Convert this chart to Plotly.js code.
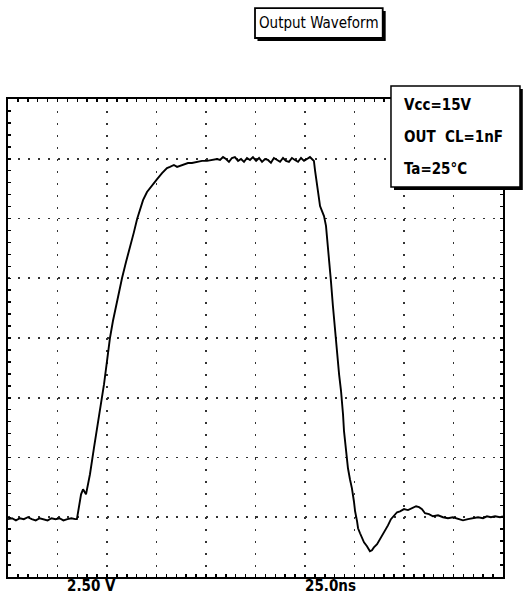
<!DOCTYPE html>
<html>
<head>
<meta charset="utf-8">
<script src="https://cdn.plot.ly/plotly-3.0.1.min.js"></script>
<style>
  html, body { margin: 0; padding: 0; background: #fff; }
  #chart { width: 525px; height: 596px; }
</style>
</head>
<body>
<div id="chart"></div>
<script>
// ---- Data (time in ns, voltage in V) ----
const baseT = [0,2,4,6,8,10,12,14,16,18,20,22,24,26,28,30,32,34];
const baseV = [-0.08,-0.04,-0.13,-0.04,-0.08,0.00,-0.08,-0.13,-0.04,-0.08,-0.13,-0.04,-0.08,-0.04,-0.13,-0.08,-0.04,-0.08];

const riseT = [34.8,36.9,37.9,39.4,41.4,43.4,45.5,47.5,48.5,50.0,51.5,53.0,54.5,56.1,57.6,59.6,61.6,63.6,65.2,66.7,68.2,70.2,72.7,75.3,77.8,80.3,81.8,83.8,85.4,86.9,88.9,90.9,92.9,95.5,98.0,100.5,103.0,105.6];
const riseV = [-0.08,0.96,1.17,0.96,1.80,2.89,3.98,5.03,5.57,6.53,7.50,8.21,8.84,9.42,10.01,10.68,11.26,11.93,12.48,12.90,13.27,13.61,13.90,14.15,14.40,14.61,14.66,14.74,14.66,14.70,14.74,14.82,14.82,14.87,14.91,14.91,14.95,14.99];

const topT = [107.1,108.6,110.1,111.6,113.1,114.6,116.2,117.7,119.2,120.7,122.2,123.7,125.3,126.8,128.3,129.8,131.3,132.8,134.3,135.9,137.4,138.9,140.4,141.9,143.4,144.9,146.5,148.0,149.5,151.0,152.5,154.0];
const topV = [14.95,15.07,14.99,14.87,15.03,15.07,14.91,14.99,14.87,15.03,14.95,15.07,14.91,15.03,14.87,14.99,14.95,14.83,15.03,14.95,14.87,15.03,14.91,14.87,15.03,14.95,14.87,15.03,14.91,14.99,15.07,14.95];

const fallT = [154.5,155.1,156.1,156.6,157.6,158.6,159.6,160.6,161.6,162.6,163.1,164.1,165.2,165.7,166.7,167.2,168.2,168.7,169.2,169.7,170.2,171.2,171.7,172.7,173.7,174.7,175.3,176.3,176.8,177.8,178.8,179.8,181.3,182.8,183.8,184.8,186.4,187.9,188.9,190.4,191.9,193.4,194.9,196.5,198.0];
const fallV = [14.91,14.49,13.86,13.57,13.02,12.81,12.60,12.19,11.35,10.51,9.88,8.84,7.79,7.24,6.53,5.99,5.28,4.86,4.31,3.60,3.18,2.55,2.05,1.59,1.21,0.67,0.25,-0.17,-0.46,-0.67,-0.88,-1.05,-1.21,-1.42,-1.38,-1.26,-1.13,-0.92,-0.80,-0.59,-0.34,-0.08,0.08,0.21,0.25];

const tailT = [200.0,202.0,204.0,206.1,207.6,209.1,210.6,212.6,214.6,217.2,219.7,222.2,224.7,227.3,229.8,232.3,234.8,237.4,239.9,241.9,243.9,246.0,248.5,250.0];
const tailV = [0.34,0.30,0.38,0.46,0.42,0.34,0.17,0.13,0.04,0.08,0.00,-0.04,0.00,-0.08,-0.13,-0.08,-0.04,0.00,-0.04,0.04,0.00,0.04,0.00,0.04];

// Scope settings / labels
const voltsPerDiv = 2.5;      // V per division
const timePerDiv = 25;        // ns per division
const xRange = [0, 250];
const yRange = [-2.5, 17.5];
const titleText = "Output Waveform";
const voltLabel = "2.50 V";
const timeLabel = "25.0ns";
const conditionLines = ["Vcc=15V", "OUT  CL=1nF", "Ta=25°C"];

const t = [].concat(baseT, riseT, topT, fallT, tailT);
const v = [].concat(baseV, riseV, topV, fallV, tailV);

const trace = {
  x: t, y: v, type: "scatter", mode: "lines",
  line: { color: "#000", width: 1.9 },
  hoverinfo: "skip", showlegend: false
};

const condFont = { family: "DejaVu Sans Condensed, sans-serif", size: 15, color: "#000", weight: "bold" };
const labelFont = { family: "DejaVu Sans Condensed, sans-serif", size: 15, color: "#000", weight: "bold" };

const axisCommon = {
  showline: true, linecolor: "#000", linewidth: 2, mirror: "allticks",
  ticks: "inside", ticklen: 3, tickwidth: 1.5, tickcolor: "#000",
  showticklabels: false, zeroline: false, showgrid: true,
  gridcolor: "#333", gridwidth: 1.6, fixedrange: true
};

const layout = {
  width: 525, height: 596,
  margin: { l: 8, r: 22, t: 99, b: 19 },
  paper_bgcolor: "#fff", plot_bgcolor: "#fff",
  showlegend: false,
  xaxis: Object.assign({}, axisCommon, {
    range: xRange, tick0: 0, dtick: timePerDiv, griddash: "2px,9.95px",
    minor: { dtick: timePerDiv / 5, ticks: "inside", ticklen: 3, tickwidth: 1.5, tickcolor: "#000", showgrid: false }
  }),
  yaxis: Object.assign({}, axisCommon, {
    range: yRange, tick0: 0, dtick: voltsPerDiv, griddash: "2px,7.9px",
    minor: { dtick: voltsPerDiv / 5, ticks: "inside", ticklen: 3, tickwidth: 1.5, tickcolor: "#000", showgrid: false }
  }),
  shapes: [
    // title box shadow + box
    { type: "rect", xref: "paper", yref: "paper", x0: 0.504, x1: 0.763, y0: 1.1213, y1: 1.184,
      fillcolor: "#000", line: { width: 0 }, layer: "above" },
    { type: "rect", xref: "paper", yref: "paper", x0: 0.499, x1: 0.757, y0: 1.1276, y1: 1.190,
      fillcolor: "#fff", line: { color: "#000", width: 1.8 }, layer: "above" },
    // condition box shadow + box
    { type: "rect", xref: "paper", yref: "paper", x0: 0.7798, x1: 1.040, y0: 0.8096, y1: 1.021,
      fillcolor: "#000", line: { width: 0 }, layer: "above" },
    { type: "rect", xref: "paper", yref: "paper", x0: 0.7737, x1: 1.0343, y0: 0.8159, y1: 1.0272,
      fillcolor: "#fff", line: { color: "#000", width: 1.5 }, layer: "above" }
  ],
  annotations: [
    { xref: "paper", yref: "paper", x: 0.628, y: 1.1588, text: titleText, showarrow: false,
      xanchor: "center", yanchor: "middle",
      font: { family: "DejaVu Sans Condensed, sans-serif", size: 15, color: "#000" } },
    { xref: "paper", yref: "paper", x: 0.796, y: 0.987, text: conditionLines[0], showarrow: false,
      xanchor: "left", yanchor: "middle", font: condFont },
    { xref: "paper", yref: "paper", x: 0.796, y: 0.9205, text: conditionLines[1], showarrow: false,
      xanchor: "left", yanchor: "middle", font: condFont },
    { xref: "paper", yref: "paper", x: 0.796, y: 0.8536, text: conditionLines[2], showarrow: false,
      xanchor: "left", yanchor: "middle", font: condFont },
    { xref: "paper", yref: "paper", x: 0.115, y: -0.019, text: voltLabel, showarrow: false,
      xanchor: "left", yanchor: "middle", font: labelFont },
    { xref: "paper", yref: "paper", x: 0.596, y: -0.019, text: timeLabel, showarrow: false,
      xanchor: "left", yanchor: "middle", font: labelFont }
  ]
};

Plotly.newPlot("chart", [trace], layout, { staticPlot: true, displayModeBar: false });
</script>
</body>
</html>
